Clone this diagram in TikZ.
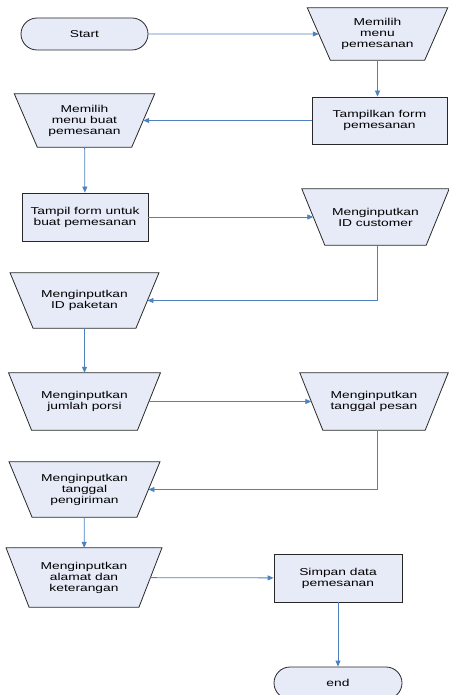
\documentclass[tikz,border=0pt]{standalone}
\usepackage{fontspec}
\setmainfont{Liberation Sans}[FakeStretch=1.38]
\usepackage{tikz}
\usetikzlibrary{shapes.misc,arrows.meta,positioning,calc,backgrounds}
\definecolor{boxfill}{RGB}{230,235,247}
\definecolor{flowline}{RGB}{79,129,189}
\definecolor{boxline}{RGB}{40,40,40}

\begin{document}
\begin{tikzpicture}[x=1pt, y=-1pt,
    every node/.style={font=\fontsize{10}{11}\selectfont, align=center, inner sep=0pt},
    terminal/.style={rounded rectangle, draw=boxline, fill=boxfill, line width=0.8pt, minimum width=127pt, minimum height=32pt},
    process/.style={rectangle, draw=boxline, fill=boxfill, line width=0.8pt, minimum width=130pt, minimum height=48pt},
    manual/.style={rectangle, minimum width=125pt, minimum height=55pt},
    manualbox/.style={draw=boxline, fill=boxfill, line width=0.8pt, line join=miter},
    flow/.style={draw=flowline, line width=0.8pt, -{Triangle[length=6pt,width=5pt]}}]
    \useasboundingbox (0,0) rectangle (449,695);

    \node[terminal] (start) at (84.5,34) {Start};
    \node[manual, minimum width=117pt, minimum height=52pt] (pilihmenu) at (377.5,34) {Memilih\\menu\\pemesanan};
    \node[process, minimum width=135pt, minimum height=47pt] (tampilkan) at (379.5,120.5) {Tampilkan form\\pemesanan};
    \node[manual, minimum width=117pt, minimum height=53pt] (pilihbuat) at (84.5,120.5) {Memilih\\menu buat\\pemesanan};
    \node[process, minimum width=126pt] (tampilform) at (85,217) {Tampil form untuk\\buat pemesanan};
    \node[manual, minimum width=124pt, minimum height=56pt] (idcust) at (375.5,217) {Menginputkan\\ID customer};
    \node[manual, minimum width=125.5pt] (idpaket) at (84.5,300.5) {Menginputkan\\ID paketan};
    \node[manual, minimum width=128.5pt, minimum height=57pt] (porsi) at (84.5,401.5) {Menginputkan\\jumlah porsi};
    \node[manual, minimum height=57pt] (tglpesan) at (374,401.5) {Menginputkan\\tanggal pesan};
    \node[manual, minimum width=127.5pt] (tglkirim) at (84.5,489.5) {Menginputkan\\tanggal\\pengiriman};
    \node[manual, minimum width=132.5pt, minimum height=59pt] (alamat) at (84,577.5) {Menginputkan\\alamat dan\\keterangan};
    \node[process, minimum width=128pt] (simpan) at (338,578) {Simpan data\\pemesanan};
    \node[terminal, minimum width=128pt] (end) at (338,683) {end};

    \begin{scope}[on background layer]
        \foreach \n in {pilihmenu,pilihbuat,idcust,idpaket,porsi,tglpesan,tglkirim,alamat}
            \draw[manualbox] ($(\n.north west)+(-11.5,0)$) -- ($(\n.north east)+(11.5,0)$)
                -- ($(\n.south east)+(-11.5,0)$) -- ($(\n.south west)+(11.5,0)$) -- cycle;
    \end{scope}

    \draw[flow] (start) -- (pilihmenu);
    \draw[flow] (pilihmenu.south) -- (pilihmenu.south |- tampilkan.north);
    \draw[flow] (tampilkan) -- (pilihbuat);
    \draw[flow] (pilihbuat) -- (tampilform);
    \draw[flow] (tampilform) -- (idcust);
    \draw[flow] ($(idcust.south)+(1.5,0)$) |- (idpaket);
    \draw[flow] (idpaket) -- (porsi);
    \draw[flow] (porsi) -- (tglpesan);
    \draw[flow] ($(tglpesan.south)+(3,0)$) |- (tglkirim);
    \draw[flow] (tglkirim) -- (alamat);
    \draw[flow] (alamat) -- (simpan);
    \draw[flow] (simpan) -- (end);
\end{tikzpicture}
\end{document}
